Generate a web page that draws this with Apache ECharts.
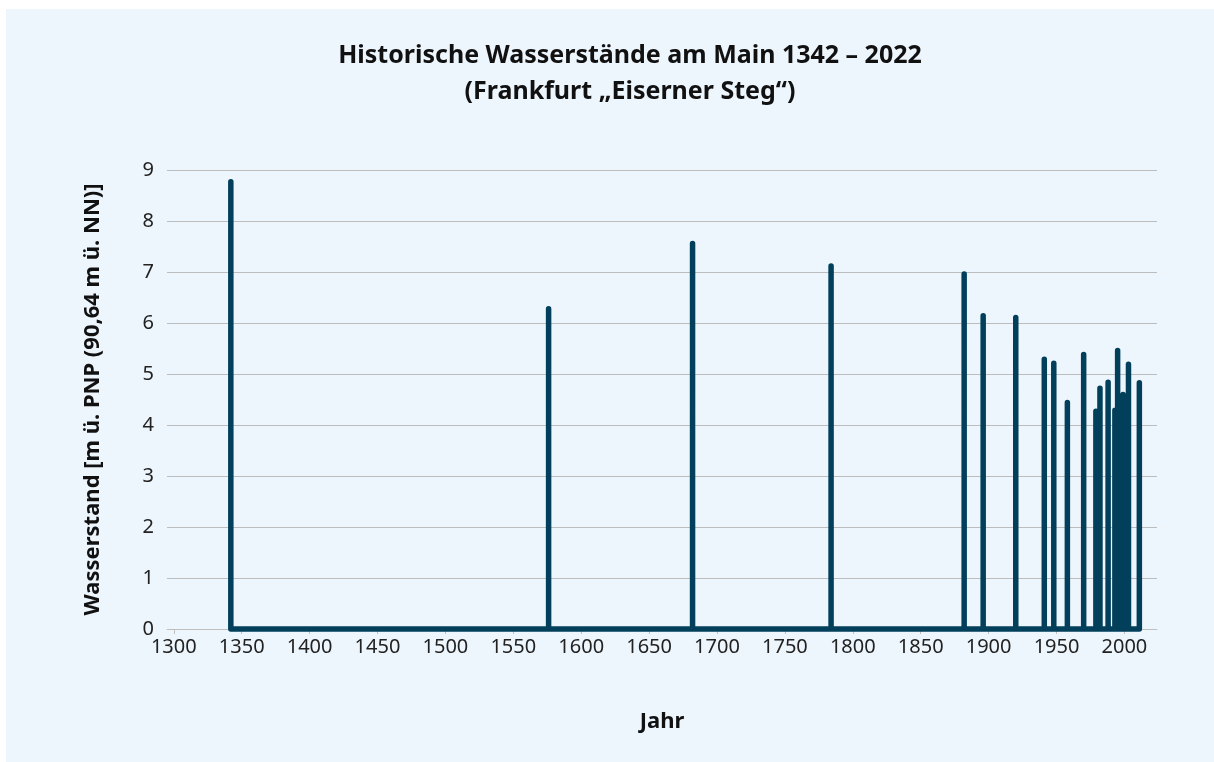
<!DOCTYPE html>
<html>
<head>
<meta charset="utf-8">
<title>Historische Wasserstände am Main</title>
<script src="https://cdn.jsdelivr.net/npm/echarts@6/dist/echarts.min.js"></script>
<style>
  html, body { margin: 0; padding: 0; background: #ffffff; }
  #chart { position: absolute; left: 6px; top: 9px; width: 1208px; height: 753px; background: #eef6fd; }
</style>
</head>
<body>
<div id="chart"></div>
<script>
// Hochwasserjahre und Scheitelwasserstände (m ü. PNP)
var floodYears = [1342, 1576, 1682, 1784, 1882, 1896, 1920, 1941, 1948, 1958,
                  1970, 1979, 1982, 1988, 1993, 1995, 1999, 2003, 2011];
var levels = [8.77, 6.28, 7.56, 7.12, 6.96, 6.14, 6.11, 5.29, 5.21, 4.44,
              5.38, 4.27, 4.72, 4.84, 4.29, 5.46, 4.6, 5.19, 4.83];
var xTicks = [1300, 1350, 1400, 1450, 1500, 1550, 1600, 1650, 1700, 1750,
              1800, 1850, 1900, 1950, 2000];
var yTicks = [0, 1, 2, 3, 4, 5, 6, 7, 8, 9];

// Linie: Grundlinie bei 0, an jedem Hochwasserjahr eine senkrechte Spitze
var lineData = [];
floodYears.forEach(function (y, i) {
    lineData.push([y, 0]);
    lineData.push([y, levels[i]]);
    lineData.push([y, 0]);
});

var font = '"Noto Sans", "Open Sans", sans-serif';
var chart = echarts.init(document.getElementById('chart'));
var option = {
    backgroundColor: '#eef6fd',
    animation: false,
    title: {
        text: 'Historische Wasserstände am Main 1342 – 2022\n(Frankfurt „Eiserner Steg“)',
        left: 619,
        top: 24,
        textAlign: 'center',
        textStyle: {
            fontFamily: font,
            fontSize: 25,
            fontWeight: 'bold',
            color: '#111',
            lineHeight: 36
        }
    },
    grid: {
        left: 161,
        right: 57,
        top: 161,
        bottom: 133
    },
    xAxis: {
        type: 'value',
        min: 1295,
        max: 2024,
        name: 'Jahr',
        nameLocation: 'middle',
        nameGap: 82,
        nameTextStyle: { fontFamily: font, fontSize: 22, fontWeight: 'bold', color: '#111' },
        axisLine: { show: true, lineStyle: { color: '#bfbfbf', width: 1 } },
        axisTick: { show: true, length: 5, customValues: xTicks, lineStyle: { color: '#bfbfbf' } },
        axisLabel: {
            customValues: xTicks,
            margin: 8,
            fontFamily: font,
            fontSize: 20,
            color: '#222',
            formatter: function (v) { return String(v); }
        },
        splitLine: { show: false }
    },
    yAxis: {
        type: 'value',
        min: 0,
        max: 9,
        interval: 1,
        name: 'Wasserstand [m ü. PNP (90,64 m ü. NN)]',
        nameLocation: 'middle',
        nameGap: 63,
        nameTextStyle: { fontFamily: font, fontSize: 22, fontWeight: 'bold', color: '#111' },
        axisLine: { show: false },
        axisTick: { show: false },
        axisLabel: { margin: 13, fontFamily: font, fontSize: 20, color: '#222' },
        splitLine: { show: true, lineStyle: { color: '#bdbdbd', width: 1 } }
    },
    series: [
        {
            name: 'Wasserstand',
            type: 'line',
            data: lineData,
            showSymbol: false,
            clip: false,
            lineStyle: { color: '#023f5b', width: 5.5, cap: 'round', join: 'round' }
        }
    ]
};
chart.setOption(option);
</script>
</body>
</html>
